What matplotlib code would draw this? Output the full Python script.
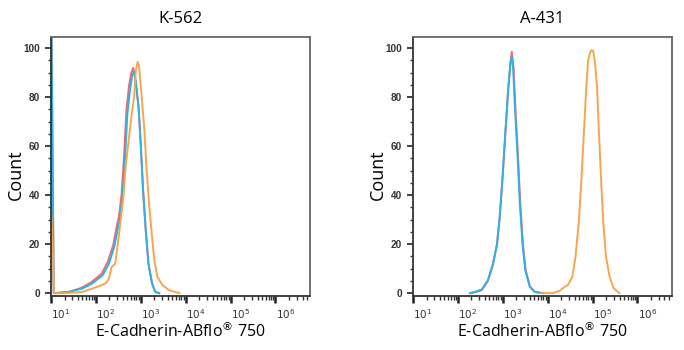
import matplotlib
matplotlib.use("Agg")
import matplotlib.pyplot as plt
import matplotlib.transforms as mtransforms
import numpy as np

# Histogram outlines, intensity given as log10(fluorescence), y = count (% of max)
k562_red_log = [1.01, 1.06, 1.40, 1.68, 1.90, 2.13, 2.27, 2.39, 2.46, 2.51, 2.57,
                2.63, 2.68, 2.74, 2.79, 2.83, 2.88, 2.95, 3.00, 3.05, 3.11,
                3.17, 3.25, 3.32, 3.41]
k562_red_cnt = [110, 0, 0.5, 2.2, 4.5, 8, 13, 20, 27, 31, 40,
                57, 75, 85, 90, 92, 87, 76, 60, 42, 25.7,
                12, 4, 0.5, 0]

k562_blue_log = [1.01, 1.06, 1.40, 1.70, 1.92, 2.15, 2.29, 2.41, 2.48, 2.53, 2.59,
                 2.65, 2.70, 2.76, 2.81, 2.85, 2.89, 2.95, 3.00, 3.05, 3.11,
                 3.17, 3.25, 3.32, 3.41]
k562_blue_cnt = [110, 0, 0.5, 1.9, 4, 7.3, 12, 19, 25.7, 30, 39,
                 55.6, 73, 83, 89, 90.4, 86, 76, 60, 42, 25.7,
                 12, 4, 0.5, 0]

k562_orange_log = [1.01, 1.07, 1.33, 1.70, 1.92, 2.07, 2.22, 2.29, 2.35, 2.43, 2.48,
                   2.56, 2.61, 2.67, 2.74, 2.80, 2.85, 2.89, 2.93, 2.96, 3.02,
                   3.08, 3.13, 3.19, 3.25, 3.30, 3.37, 3.48, 3.63, 3.86]
k562_orange_cnt = [31, 0, 0, 0.5, 1.9, 2.9, 4, 6, 10.7, 12, 19,
                   31, 39, 53, 64, 73.5, 80, 91, 94.4, 93, 80,
                   66.5, 50, 35, 23, 13.5, 6.7, 3.3, 1.2, 0]

a431_red_log = [2.27, 2.38, 2.53, 2.67, 2.78, 2.87, 2.93, 2.99, 3.06, 3.12,
                3.17, 3.20, 3.24, 3.28, 3.34, 3.39, 3.45, 3.51, 3.61, 3.72, 3.90]
a431_red_cnt = [0, 0.4, 1.2, 5, 11.5, 19.5, 30.5, 45.5, 66, 83,
                94, 98.5, 92, 76, 55.6, 36.6, 20, 9.4, 2.6, 0.5, 0]

a431_blue_log = [2.27, 2.38, 2.53, 2.67, 2.78, 2.87, 2.93, 2.99, 3.06, 3.12,
                 3.17, 3.20, 3.23, 3.27, 3.33, 3.38, 3.44, 3.50, 3.60, 3.71, 3.90]
a431_blue_cnt = [0, 0.5, 1.5, 5.4, 12, 20, 31, 46, 66.5, 83,
                 93.7, 96.5, 92, 76, 55.6, 36.6, 20, 9.4, 2.6, 0.5, 0]

a431_orange_log = [3.86, 4.12, 4.27, 4.38, 4.45, 4.55, 4.62, 4.69, 4.75, 4.81,
                   4.86, 4.90, 4.96, 5.01, 5.05, 5.10, 5.14, 5.19, 5.24, 5.30,
                   5.38, 5.47, 5.60]
a431_orange_cnt = [0, 0, 1, 2.6, 3.3, 6.7, 14.8, 28.4, 46, 66.5,
                   84, 95, 99, 99, 95, 84, 66.5, 46, 28.4, 14.8,
                   6.7, 2, 0]

titles = ["K-562", "A-431"]
decades = [1, 2, 3, 4, 5, 6]
y_major = [0, 20, 40, 60, 80, 100]

RED = "#f15a60"
BLUE = "#2bb3e6"
ORANGE = "#f9a54c"

fig = plt.figure(figsize=(6.84, 3.5), dpi=100)
ax1 = fig.add_axes([0.0746, 0.154, 0.3787, 0.74])
ax2 = fig.add_axes([0.6038, 0.154, 0.3787, 0.74])

panels = [
    (ax1, k562_red_log, k562_red_cnt, k562_blue_log, k562_blue_cnt,
     k562_orange_log, k562_orange_cnt),
    (ax2, a431_red_log, a431_red_cnt, a431_blue_log, a431_blue_cnt,
     a431_orange_log, a431_orange_cnt),
]

tick_font = {"family": "Liberation Sans", "weight": "bold", "size": 7.2}

for i, (ax, rl, rc, bl, bc, ol, oc) in enumerate(panels):
    ax.plot(10 ** np.array(rl), rc, color=RED, lw=1.4, alpha=0.9)
    ax.plot(10 ** np.array(bl), bc, color=BLUE, lw=1.4)
    ax.plot(10 ** np.array(ol), oc, color=ORANGE, lw=1.4)

    ax.set_xscale("log")
    ax.set_xlim(10 ** 1.0, 10 ** 6.77)
    ax.set_ylim(-1.2, 104.5)

    # decade ticks, minor ticks at 2..9 of each decade
    ax.set_xticks([10 ** d for d in decades])
    ax.set_xticklabels([r"$10^{%d}$" % d for d in decades])
    minors = [m * 10 ** d for d in range(1, 7) for m in range(2, 10)]
    ax.set_xticks([v for v in minors if v < 10 ** 6.77], minor=True)
    ax.set_yticks(y_major)
    ax.set_yticks(np.arange(0, 105, 5), minor=True)

    ax.tick_params(axis="x", which="major", length=5, width=1.8, color="#222222",
                   pad=3, labelsize=7.5, labelcolor="#333333")
    ax.tick_params(axis="x", which="minor", length=3, width=1.0, color="#333333")
    ax.tick_params(axis="y", which="major", length=4, width=1.2, color="#222222",
                   pad=4, labelcolor="#333333")
    ax.tick_params(axis="y", which="minor", length=2.5, width=1.0, color="#333333")
    for lab in ax.get_yticklabels():
        lab.set_fontproperties(tick_font)

    # exponent labels sit a little to the right of their tick
    shift = mtransforms.ScaledTranslation(10 / 100, 0, fig.dpi_scale_trans)
    for lab in ax.get_xticklabels():
        lab.set_transform(lab.get_transform() + shift)

    for side in ["top", "right"]:
        ax.spines[side].set_color("#666666")
        ax.spines[side].set_linewidth(1.3)
    for side in ["left", "bottom"]:
        ax.spines[side].set_color("#333333")
        ax.spines[side].set_linewidth(1.3)

    ax.set_title(titles[i], fontsize=12, family="Open Sans", pad=10)
    ax.set_ylabel("Count", fontsize=13, family="Open Sans")
    ax.yaxis.set_label_coords(-0.10, 0.47)
    ax.set_xlabel("E-Cadherin-ABflo$^{®}$ 750", fontsize=11.5, family="Open Sans")
    ax.xaxis.set_label_coords(0.5, -0.10)

fig.savefig("out.png", dpi=100)
